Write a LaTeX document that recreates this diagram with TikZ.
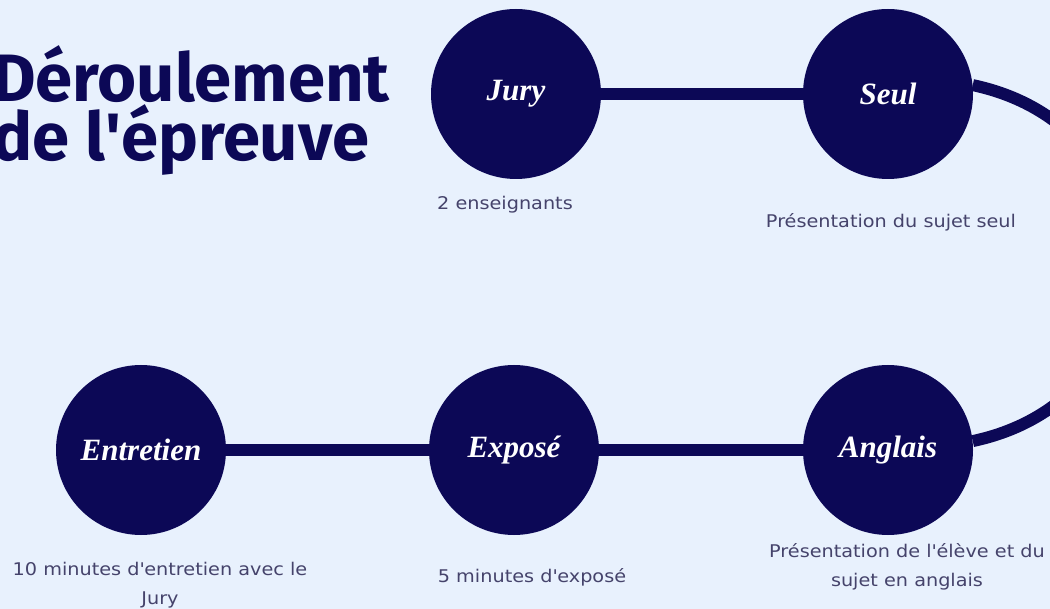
\documentclass[tikz,border=0pt]{standalone}
\usepackage{fontspec}
\setmainfont{Fira Sans}
\newfontfamily\cursive{Liberation Serif}
\newfontfamily\legendfont{DejaVu Sans}[FakeStretch=1.1]
\definecolor{navy}{HTML}{0C0856}
\definecolor{fond}{HTML}{E8F1FD}
\definecolor{grisbleu}{HTML}{45436B}
\begin{document}
\begin{tikzpicture}[x=1pt, y=-1pt, etape/.style={circle, fill=navy, minimum size=170pt, inner sep=0pt, text=white, font=\cursive\itshape\bfseries\fontsize{31}{31}\selectfont}, legende/.style={text=grisbleu, align=center, font=\legendfont\fontsize{17.5}{29}\selectfont}]
\fill[fond] (0,0) rectangle (1050,609);
\useasboundingbox (0,0) rectangle (1050,609);

\node[anchor=north west, align=left, text=navy, inner sep=0pt, font=\bfseries\fontsize{67}{59}\selectfont] (t) at (-8,45) {Déroulement\\de l\textquotesingle épreuve};

\node[etape] (0) at (516,94) {Jury};
\node[etape] (1) at (888,94) {Seul};
\node[etape] (2) at (888,450) {Anglais};
\node[etape] (3) at (514,450) {Exposé};
\node[etape] (4) at (141,450) {Entretien};

\node[legende] (5) at (505,205) {2 enseignants};
\node[legende] (6) at (891,222) {Présentation du sujet seul};
\node[legende] (7) at (907,567) {Présentation de l\textquotesingle élève et du\\sujet en anglais};
\node[legende] (8) at (532,577) {5 minutes d\textquotesingle exposé};
\node[legende] (9) at (160,585) {10 minutes d\textquotesingle entretien avec le\\Jury};

\path[draw=navy, line width=12pt]
(0) edge (1)
(1.6) edge[out=-12, in=12, looseness=1.5] (2.6)
(2) edge (3)
(3) edge (4)
;
\end{tikzpicture}
\end{document}
